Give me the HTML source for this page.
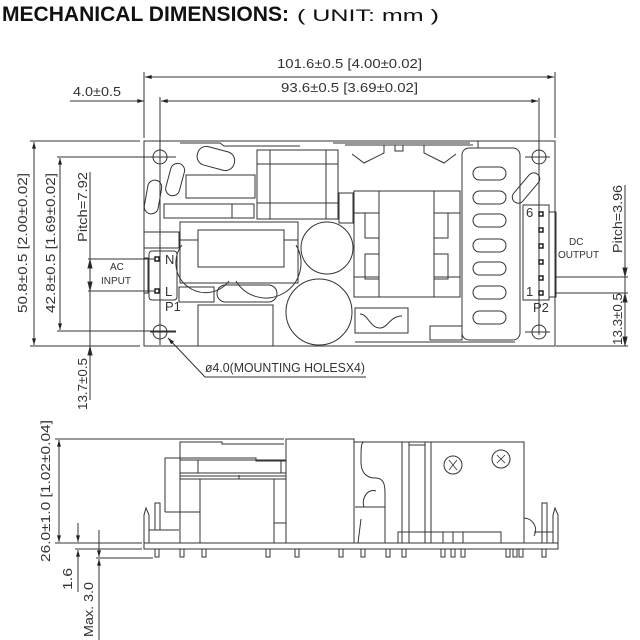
<!DOCTYPE html>
<html><head><meta charset="utf-8"><style>
html,body{margin:0;padding:0;background:#fff;}
svg{display:block}
text{font-family:"Liberation Sans",sans-serif;fill:#333;}
</style></head><body>
<svg width="640" height="640" viewBox="0 0 640 640" xmlns="http://www.w3.org/2000/svg">
<defs>
<marker id="a" viewBox="0 0 10 6" refX="10" refY="3" markerWidth="8" markerHeight="4" orient="auto-start-reverse"><path d="M0,0L10,3L0,6z" fill="#222"/></marker>
</defs>
<text x="2" y="21" font-size="21" font-weight="bold" textLength="287" lengthAdjust="spacingAndGlyphs" style="fill:#111">MECHANICAL DIMENSIONS:</text>
<text x="297" y="21" font-size="17" textLength="142" lengthAdjust="spacingAndGlyphs" style="fill:#111">( UNIT: mm )</text>

<g stroke="#333" stroke-width="1" fill="none">
<line x1="144" y1="72" x2="144" y2="138"/><line x1="555" y1="72" x2="555" y2="138"/>
<line x1="145" y1="77" x2="554" y2="77" marker-start="url(#a)" marker-end="url(#a)"/>
<line x1="160" y1="97" x2="160" y2="335"/><line x1="539" y1="98" x2="539" y2="335"/>
<line x1="70" y1="101" x2="144" y2="101" marker-end="url(#a)"/>
<line x1="161" y1="101" x2="538" y2="101" marker-start="url(#a)" marker-end="url(#a)"/>
<line x1="30" y1="141" x2="140" y2="141"/><line x1="30" y1="346" x2="140" y2="346"/>
<line x1="34" y1="142" x2="34" y2="345" marker-start="url(#a)" marker-end="url(#a)"/>
<line x1="57" y1="157" x2="176" y2="157"/><line x1="57" y1="331" x2="176" y2="331"/>
<line x1="60" y1="158" x2="60" y2="330" marker-start="url(#a)" marker-end="url(#a)"/>
<line x1="90" y1="172" x2="90" y2="400"/>
<line x1="88" y1="259" x2="155" y2="259"/><line x1="88" y1="291" x2="155" y2="291"/>
<path d="M90,260 l-2,8 h4z M90,290 l-2,-8 h4z M90,347 l-2,8 h4z" fill="#222"/>
<line x1="625" y1="185" x2="625" y2="346"/>
<line x1="556" y1="277" x2="628" y2="277"/><line x1="556" y1="293" x2="628" y2="293"/>
<line x1="556" y1="346" x2="628" y2="346"/>
<path d="M625,276 l-2,-8 h4z M625,294 l-2,8 h4z M625,345 l-2,-8 h4z" fill="#222"/>
<line x1="205" y1="377" x2="168" y2="338" marker-end="url(#a)"/><line x1="205" y1="377" x2="366" y2="377"/>

<rect x="144" y="141" width="411" height="205"/>
<g>
<circle cx="160" cy="157" r="7"/><circle cx="160" cy="332" r="7"/><circle cx="539" cy="157" r="7"/><circle cx="539" cy="332" r="7"/>
<line x1="150" y1="157" x2="176" y2="157"/><line x1="525" y1="157" x2="550" y2="157"/><line x1="150" y1="332" x2="176" y2="332"/><line x1="525" y1="332" x2="550" y2="332"/>
<line x1="539" y1="146" x2="539" y2="168"/><line x1="160" y1="322" x2="160" y2="345"/>
</g>
<path d="M180,143 H220 l4,3 H300 M333,143 H470 M478,141 v7"/>
<rect x="197" y="149" width="38" height="19" rx="9" transform="rotate(15 216 158)"/>
<rect x="168" y="163" width="14" height="33" rx="7" transform="rotate(15 175 180)"/>
<rect x="146" y="180" width="14" height="34" rx="7" transform="rotate(10 153 197)"/>
<rect x="186" y="175" width="69" height="23"/>
<rect x="164" y="204" width="90" height="14"/><line x1="232" y1="204" x2="232" y2="218"/>
<rect x="257" y="150" width="81" height="69"/><path d="M270,150v69M326,150v69M257,164h81M257,203h81"/>
<rect x="339" y="193" width="14" height="30"/>
<rect x="180" y="222" width="118" height="61"/><rect x="198" y="230" width="86" height="37"/>
<path d="M180,240 h18 M284,240 h14"/>
<path d="M182,245 a25 25 0 0 0 47,36 M236,281 a25 25 0 0 0 60,-36"/>
<rect x="144" y="232" width="35" height="16"/>
<rect x="179" y="287" width="35" height="15"/>
<rect x="217" y="285" width="60" height="17" rx="8.5"/>
<rect x="198" y="305" width="75" height="41"/>
<circle cx="327" cy="248" r="26"/><circle cx="319" cy="312" r="33"/>
<rect x="354" y="191" width="106" height="106"/><path d="M379,191v106M434,191v106M354,213h25M354,277h25M434,213h26M434,277h26"/>
<rect x="365" y="213" width="14" height="25"/><rect x="365" y="254" width="14" height="25"/>
<rect x="434" y="213" width="14" height="25"/><rect x="434" y="254" width="14" height="25"/>
<path d="M345,145h128M352,154 l12,9 l20,-10 v-8 M456,154 l-12,9 l-20,-10 v-8 M395,145 v6 h8 v-6"/>
<rect x="462" y="148" width="58" height="192" rx="7"/>
<g><rect x="473" y="167" width="33" height="13" rx="6.5"/><rect x="473" y="191" width="33" height="13" rx="6.5"/><rect x="473" y="214" width="33" height="13" rx="6.5"/><rect x="473" y="239" width="33" height="13" rx="6.5"/><rect x="473" y="262" width="33" height="13" rx="6.5"/><rect x="473" y="286" width="33" height="13" rx="6.5"/><rect x="473" y="311" width="33" height="13" rx="6.5"/></g>
<rect x="520" y="170" width="12" height="36" rx="6" transform="rotate(40 526 188)"/>
<rect x="355" y="308" width="53" height="25"/><path d="M360,314 c8,0 10,14 20,14 c8,0 10,-12 22,-12"/>
<path d="M355,342 h160 M430,326 h32 v14 h-32z"/>
<rect x="149" y="251" width="28" height="49" rx="3"/>
<rect x="144" y="258" width="4" height="35"/>
<rect x="523" y="205" width="26" height="95"/><rect x="549" y="212" width="7" height="85"/>
</g>
<g fill="#fff" stroke="#222" stroke-width="1.5">
<rect x="155" y="257" width="4" height="4"/><rect x="155" y="289" width="4" height="4"/>
<rect x="539" y="212" width="4" height="4"/><rect x="539" y="228" width="4" height="4"/><rect x="539" y="244" width="4" height="4"/><rect x="539" y="260" width="4" height="4"/><rect x="539" y="276" width="4" height="4"/><rect x="539" y="291" width="4" height="4"/>
</g>

<g font-size="13" lengthAdjust="spacingAndGlyphs">
<text x="277" y="68" textLength="145" lengthAdjust="spacingAndGlyphs">101.6±0.5  [4.00±0.02]</text>
<text x="281" y="92" textLength="137" lengthAdjust="spacingAndGlyphs">93.6±0.5  [3.69±0.02]</text>
<text x="73" y="96" textLength="48" lengthAdjust="spacingAndGlyphs">4.0±0.5</text>
<text x="205" y="372" textLength="160" lengthAdjust="spacingAndGlyphs">ø4.0(MOUNTING  HOLESX4)</text>
<text transform="translate(27,313) rotate(-90)" textLength="140" lengthAdjust="spacingAndGlyphs">50.8±0.5  [2.00±0.02]</text>
<text transform="translate(55,313) rotate(-90)" textLength="140" lengthAdjust="spacingAndGlyphs">42.8±0.5  [1.69±0.02]</text>
<text transform="translate(87,242) rotate(-90)" textLength="70" lengthAdjust="spacingAndGlyphs">Pitch=7.92</text>
<text transform="translate(87,410) rotate(-90)" textLength="52" lengthAdjust="spacingAndGlyphs">13.7±0.5</text>
<text transform="translate(622,253) rotate(-90)" textLength="68" lengthAdjust="spacingAndGlyphs">Pitch=3.96</text>
<text transform="translate(622,345) rotate(-90)" textLength="52" lengthAdjust="spacingAndGlyphs">13.3±0.5</text>
<text x="165" y="264">N</text><text x="165" y="296">L</text><text x="165" y="311">P1</text>
<text x="526" y="217">6</text><text x="526" y="296">1</text><text x="533" y="312">P2</text>
<text transform="translate(50,562) rotate(-90)" textLength="142" lengthAdjust="spacingAndGlyphs">26.0±1.0  [1.02±0.04]</text>
<text transform="translate(72,590) rotate(-90)" textLength="22" lengthAdjust="spacingAndGlyphs">1.6</text>
<text transform="translate(93,637) rotate(-90)" textLength="55" lengthAdjust="spacingAndGlyphs">Max.  3.0</text>
</g>
<g font-size="10"><text x="110" y="270">AC</text><text x="101" y="284">INPUT</text>
<text x="569" y="245">DC</text><text x="558" y="258">OUTPUT</text></g>

<!-- side view -->
<g stroke="#333" stroke-width="1" fill="none">
<line x1="55" y1="439" x2="284" y2="439"/>
<line x1="59" y1="440" x2="59" y2="542" marker-start="url(#a)" marker-end="url(#a)"/>
<line x1="55" y1="543" x2="142" y2="543"/><line x1="75" y1="549" x2="142" y2="549"/><line x1="96" y1="558" x2="153" y2="558"/>
<line x1="78" y1="523" x2="78" y2="542" marker-end="url(#a)"/><line x1="78" y1="550" x2="78" y2="592" marker-start="url(#a)"/>
<line x1="99" y1="530" x2="99" y2="557" marker-end="url(#a)"/><line x1="99" y1="559" x2="99" y2="640" marker-start="url(#a)"/>
<rect x="144" y="543" width="414" height="6"/>
<rect x="286" y="439" width="68" height="104"/>
<path d="M180,543 V442 H222 v2 H284 M165,512 V458 H256 v3 H286 M180,460 H286 M180,473 H286 M180,476 H286 M180,479 H286 M281,460 v13 M198,473 v-13 M239,479 v-4 M200,543 V479 H274 V543 M274,523 h12 M165,512 h35 M149,543 V530 h30 M155,530 V503 h5 v27 M144,543 v-28 l2,-7 l3,7 v28"/>
<path d="M354,442 H524 V543 M364,442 c-3,0 -3,5 -3,20 c0,10 5,16 14,16 c8,0 10,5 10,15 V543 M402,442 v101 M409,442 v101 M425,442 v101 M431,442 v101 M409,445 h16 M355,507 h30 M364,507 a10 12 0 0 1 12,-16 M358,543 l3,-24 M398,543 V532 H501 V543 M443,532 v11 M453,532 v11 M463,532 v11"/>
<circle cx="453" cy="465" r="9"/><circle cx="501" cy="459" r="9"/>
<path d="M449,460 l4,5 l-4,5 M457,460 l-4,5 l4,5 M497,455 l4,4 l4,-4 M497,463 l4,-4 l4,4" stroke-width="0.8"/>
<path d="M542,543 V503 h5 v40 M553,543 V515 l2,-7 l3,7 v28 M524,518 a12 12 0 0 1 10,18 M534,532 h19"/>
<path d="M155,549 v8 h4 v-8 M180,549 v8 h4 v-8 M202,549 v8 h4 v-8 M266,549 v8 h4 v-8 M295,549 v8 h4 v-8 M339,549 v8 h4 v-8 M361,549 v8 h4 v-8 M386,549 v8 h4 v-8 M402,549 v8 h4 v-8 M441,549 v8 h4 v-8 M451,549 v8 h4 v-8 M461,549 v8 h4 v-8 M506,549 v8 h4 v-8 M513,549 v8 h4 v-8 M519,549 v8 h4 v-8 M542,549 v8 h4 v-8"/>
</g>
</svg>
</body></html>
